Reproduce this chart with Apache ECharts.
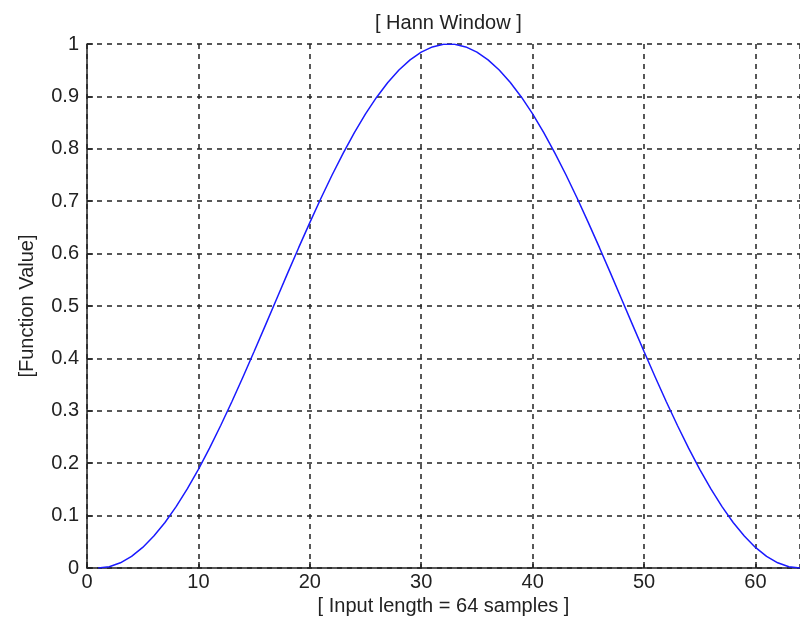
<!DOCTYPE html>
<html>
<head>
<meta charset="utf-8">
<title>Hann Window</title>
<script src="https://cdn.jsdelivr.net/npm/echarts@6/dist/echarts.min.js"></script>
<style>
  html, body { margin: 0; padding: 0; background: #fff; }
  #chart { width: 800px; height: 622px; }
</style>
</head>
<body>
<div id="chart"></div>
<script>
// sample index 1..64 and window values
var samples = [];
for (var i = 1; i <= 64; i++) samples.push(i);

var hannValues = [
  0, 0.0025, 0.0099, 0.0222, 0.0393, 0.0609, 0.0869, 0.1170,
  0.1509, 0.1883, 0.2287, 0.2719, 0.3173, 0.3646, 0.4132, 0.4626,
  0.5124, 0.5622, 0.6113, 0.6592, 0.7056, 0.7500, 0.7919, 0.8308,
  0.8665, 0.8985, 0.9266, 0.9505, 0.9698, 0.9845, 0.9944, 0.9994,
  0.9994, 0.9944, 0.9845, 0.9698, 0.9505, 0.9266, 0.8985, 0.8665,
  0.8308, 0.7919, 0.7500, 0.7056, 0.6592, 0.6113, 0.5622, 0.5124,
  0.4626, 0.4132, 0.3646, 0.3173, 0.2719, 0.2287, 0.1883, 0.1509,
  0.1170, 0.0869, 0.0609, 0.0393, 0.0222, 0.0099, 0.0025, 0
];

var chart = echarts.init(document.getElementById('chart'));

var font = '"Liberation Sans", Arial, sans-serif';
var ink = '#222';
var dashed = { show: true, lineStyle: { color: ink, type: [5, 5], width: 1.5 } };

var option = {
  animation: false,
  backgroundColor: '#fff',
  title: {
    text: '[ Hann Window ]',
    left: 370,
    top: 8,
    textStyle: { fontFamily: font, fontSize: 20, fontWeight: 'normal', color: ink }
  },
  grid: { left: 87, top: 44, right: -6, bottom: 54 },
  xAxis: {
    type: 'value',
    min: 0,
    max: 64,
    interval: 10,
    name: '[ Input length = 64 samples ]',
    nameLocation: 'middle',
    nameGap: 26,
    nameTextStyle: { fontFamily: font, fontSize: 20, color: ink },
    axisLine: { show: true, lineStyle: { color: ink, width: 1.5 } },
    axisTick: { show: true, inside: true, length: 6, lineStyle: { color: ink, width: 1.5 } },
    axisLabel: { showMaxLabel: false, margin: 4, fontFamily: font, fontSize: 20, color: ink },
    splitLine: dashed
  },
  yAxis: {
    type: 'value',
    min: 0,
    max: 1,
    interval: 0.1,
    name: '[Function Value]',
    nameLocation: 'middle',
    nameGap: 50,
    nameTextStyle: { fontFamily: font, fontSize: 20, color: ink },
    axisLine: { show: true, lineStyle: { color: ink, width: 1.5 } },
    axisTick: { show: true, inside: true, length: 6, lineStyle: { color: ink, width: 1.5 } },
    axisLabel: { margin: 8, fontFamily: font, fontSize: 20, color: ink },
    splitLine: dashed
  },
  series: [{
    type: 'line',
    data: samples.map(function (s, i) { return [s, hannValues[i]]; }),
    showSymbol: false,
    lineStyle: { color: '#1a1aff', width: 1.5 },
    itemStyle: { color: '#1a1aff' }
  }]
};

chart.setOption(option);
</script>
</body>
</html>
